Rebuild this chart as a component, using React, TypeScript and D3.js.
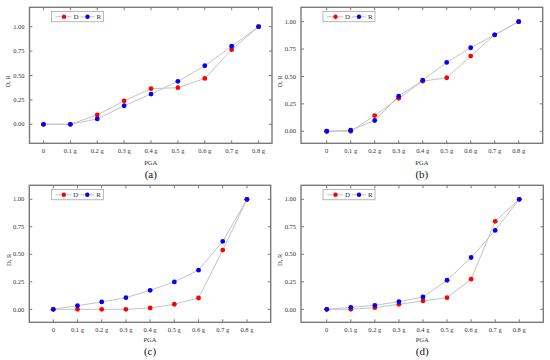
import React from "react";
import * as d3 from "d3";

// PGA levels shared by all four panels
const pgaLabels = ["0", "0.1 g", "0.2 g", "0.3 g", "0.4 g", "0.5 g", "0.6 g", "0.7 g", "0.8 g"];
const yTicks = [0, 0.25, 0.5, 0.75, 1.0];

const dA = [0, 0, 0.095, 0.24, 0.365, 0.375, 0.47, 0.765, 1.0];
const rA = [0, 0, 0.055, 0.19, 0.31, 0.44, 0.6, 0.8, 1.0];

const dB = [0, 0, 0.143, 0.3, 0.457, 0.488, 0.686, 0.88, 1.0];
const rB = [0, 0.01, 0.098, 0.32, 0.466, 0.628, 0.762, 0.88, 1.0];

const dC = [0, 0, 0, 0, 0.012, 0.046, 0.103, 0.538, 1.0];
const rC = [0, 0.033, 0.067, 0.106, 0.173, 0.249, 0.356, 0.617, 1.0];

const dD = [0, 0, 0.015, 0.046, 0.076, 0.106, 0.274, 0.8, 1.0];
const rD = [0, 0.018, 0.036, 0.07, 0.112, 0.264, 0.471, 0.717, 1.0];

const SERIF = "'Liberation Serif', 'Times New Roman', serif";
const FRAME = "#7a7a7a";
const LINE = "#c4c4c4";

interface PanelProps {
  x0: number;
  x1: number;
  y0: number;
  y1: number;
  xDomain: [number, number];
  yDomain: [number, number];
  d: number[];
  r: number[];
  letter: string;
  titleY: number;
  letterY: number;
  yLabelX: number;
}

const Panel = ({ x0, x1, y0, y1, xDomain, yDomain, d, r, letter, titleY, letterY, yLabelX }: PanelProps) => {
  const x = d3.scaleLinear().domain(xDomain).range([x0, x1]);
  const y = d3.scaleLinear().domain(yDomain).range([y1, y0]);
  const idx = d3.range(pgaLabels.length);

  const line = d3
    .line<number>()
    .x((_, i) => x(i))
    .y((v) => y(v));

  const tick = 3;
  const cx = (x0 + x1) / 2;
  const lx = x0 + 22;
  const ly = y0 + 9.5;

  return (
    <g>
      <rect x={x0} y={y0} width={x1 - x0} height={y1 - y0} fill="white" stroke={FRAME} strokeWidth={1.4} />
      {idx.map((i) => (
        <g key={"xt" + i}>
          <line x1={x(i)} x2={x(i)} y1={y1} y2={y1 - tick} stroke={FRAME} />
          <line x1={x(i)} x2={x(i)} y1={y0} y2={y0 + tick} stroke={FRAME} />
          <text x={x(i)} y={y1 + 9.5} fontSize={6.5} textAnchor="middle" fontFamily={SERIF} fill="#333">
            {pgaLabels[i]}
          </text>
        </g>
      ))}
      {yTicks.map((t) => (
        <g key={"yt" + t}>
          <line x1={x0} x2={x0 + tick} y1={y(t)} y2={y(t)} stroke={FRAME} />
          <line x1={x1} x2={x1 - tick} y1={y(t)} y2={y(t)} stroke={FRAME} />
          <text x={x0 - 5} y={y(t) + 2.2} fontSize={6.5} textAnchor="end" fontFamily={SERIF} fill="#333">
            {t.toFixed(2)}
          </text>
        </g>
      ))}
      <path d={line(d) ?? ""} fill="none" stroke={LINE} strokeWidth={1} />
      <path d={line(r) ?? ""} fill="none" stroke={LINE} strokeWidth={1} />
      {d.map((v, i) => (
        <circle key={"d" + i} cx={x(i)} cy={y(v)} r={2.4} fill="#ff0000" />
      ))}
      {r.map((v, i) => (
        <circle key={"r" + i} cx={x(i)} cy={y(v)} r={2.4} fill="#0000ff" />
      ))}
      {/* legend */}
      <rect x={lx} y={ly - 5.5} width={52} height={10.5} fill="white" stroke="#999" strokeWidth={0.7} />
      <line x1={lx + 4} x2={lx + 20} y1={ly} y2={ly} stroke={LINE} />
      <circle cx={lx + 12.5} cy={ly} r={2.2} fill="#ff0000" />
      <text x={lx + 22} y={ly + 2.4} fontSize={7} fontFamily={SERIF} fill="#333">D</text>
      <line x1={lx + 29} x2={lx + 43} y1={ly} y2={ly} stroke={LINE} />
      <circle cx={lx + 36} cy={ly} r={2.2} fill="#0000ff" />
      <text x={lx + 45} y={ly + 2.4} fontSize={7} fontFamily={SERIF} fill="#333">R</text>
      {/* titles */}
      <text x={cx} y={titleY} fontSize={6.5} textAnchor="middle" fontFamily={SERIF} fill="#333">PGA</text>
      <text
        transform={`translate(${yLabelX},${(y0 + y1) / 2 + 6}) rotate(-90)`}
        fontSize={6.5}
        textAnchor="middle"
        fontFamily={SERIF}
        fill="#333"
      >
        D, R
      </text>
      <text x={cx} y={letterY} fontSize={11} textAnchor="middle" fontFamily={SERIF} fill="#111">
        {letter}
      </text>
    </g>
  );
};

const App = () => {
  return (
    <div style={{ position: "absolute", left: 0, top: 0 }}>
      <svg width={550} height={360} style={{ display: "block", background: "white" }}>
        <Panel x0={29.5} x1={272} y0={7.3} y1={143.3} xDomain={[-0.52, 8.5]} yDomain={[-0.195, 1.199]}
          d={dA} r={rA} letter="(a)" titleY={165} letterY={177.5} yLabelX={10} />
        <Panel x0={301} x1={542.7} y0={7.3} y1={143.3} xDomain={[-1.07, 9]} yDomain={[-0.11, 1.131]}
          d={dB} r={rB} letter="(b)" titleY={165} letterY={177.5} yLabelX={282} />
        <Panel x0={29.3} x1={270.7} y0={185.3} y1={322.3} xDomain={[-0.99, 8.98]} yDomain={[-0.118, 1.127]}
          d={dC} r={rC} letter="(c)" titleY={341.5} letterY={354.5} yLabelX={10.5} />
        <Panel x0={301} x1={543.3} y0={185.3} y1={322.3} xDomain={[-1.07, 9]} yDomain={[-0.118, 1.127]}
          d={dD} r={rD} letter="(d)" titleY={341.5} letterY={354.5} yLabelX={282} />
      </svg>
    </div>
  );
};

export default App;
